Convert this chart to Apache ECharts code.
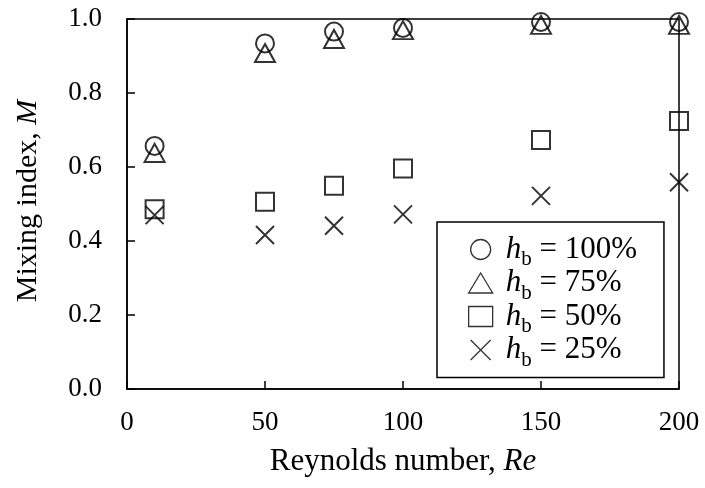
<!DOCTYPE html>
<html>
<head>
<meta charset="utf-8">
<script src="https://cdn.jsdelivr.net/npm/echarts@6/dist/echarts.min.js"></script>
<style>
  html, body { margin: 0; padding: 0; background: #fff; }
  #chart { width: 705px; height: 488px; }
</style>
</head>
<body>
<div id="chart"></div>
<script>
// Reynolds numbers at which the mixing index was evaluated
const reynolds = [10, 50, 75, 100, 150, 200];

// Mixing index M for each baffle height h_b
const mix100 = [0.657, 0.934, 0.966, 0.976, 0.992, 0.992];
const mix75  = [0.638, 0.908, 0.946, 0.970, 0.984, 0.984];
const mix50  = [0.486, 0.506, 0.549, 0.596, 0.673, 0.724];
const mix25  = [0.470, 0.416, 0.441, 0.472, 0.522, 0.559];

const seriesNames = ['100%', '75%', '50%', '25%'];
const xTicks = [0, 50, 100, 150, 200];
const yTicks = [0.0, 0.2, 0.4, 0.6, 0.8, 1.0];

const FONT = '"Liberation Serif", "Times New Roman", serif';
const CROSS = 'path://M0,0L10,10M0,10L10,0';

const pairs = (ys) => reynolds.map((x, i) => [x, ys[i]]);

const markerStyle = {
  color: 'rgba(0,0,0,0)',
  borderColor: '#000',
  borderWidth: 2
};

function scatter(name, ys, symbol, size) {
  return {
    name: name,
    type: 'scatter',
    data: pairs(ys),
    symbol: symbol,
    symbolSize: size,
    itemStyle: markerStyle,
    emphasis: { disabled: true },
    z: 3
  };
}

const chart = echarts.init(document.getElementById('chart'), null, { renderer: 'canvas' });

chart.setOption({
  animation: false,
  backgroundColor: '#fff',
  textStyle: { fontFamily: FONT, color: '#000' },
  grid: {
    left: 127, right: 26, top: 19, bottom: 99,
    show: true,
    borderColor: '#000',
    borderWidth: 1.5,
    backgroundColor: 'transparent'
  },
  xAxis: {
    type: 'value',
    min: xTicks[0],
    max: xTicks[xTicks.length - 1],
    interval: 50,
    name: 'Reynolds number, {it|Re}',
    nameLocation: 'middle',
    nameGap: 57,
    nameTextStyle: {
      fontFamily: FONT, fontSize: 31, color: '#000',
      rich: { it: { fontFamily: FONT, fontSize: 31, fontStyle: 'italic', color: '#000' } }
    },
    axisLine: { show: true, lineStyle: { color: '#000', width: 1.5 } },
    axisTick: { show: true, inside: true, length: 8, lineStyle: { color: '#000', width: 1.5 } },
    axisLabel: { fontFamily: FONT, fontSize: 27, color: '#000', margin: 20 },
    splitLine: { show: false }
  },
  yAxis: {
    type: 'value',
    min: yTicks[0],
    max: yTicks[yTicks.length - 1],
    interval: 0.2,
    name: 'Mixing index, {it|M}',
    nameLocation: 'middle',
    nameGap: 84,
    nameTextStyle: {
      fontFamily: FONT, fontSize: 30, color: '#000',
      padding: [0, 0, 0, 6],
      rich: { it: { fontFamily: FONT, fontSize: 30, fontStyle: 'italic', color: '#000' } }
    },
    axisLine: { show: true, lineStyle: { color: '#000', width: 1.5 } },
    axisTick: { show: true, inside: true, length: 8, lineStyle: { color: '#000', width: 1.5 } },
    axisLabel: {
      fontFamily: FONT, fontSize: 27, color: '#000', margin: 25,
      formatter: (v) => v.toFixed(1)
    },
    splitLine: { show: false }
  },
  legend: {
    orient: 'vertical',
    left: 437,
    top: 222,
    padding: [7, 27, 7, 31],
    borderColor: '#000',
    borderWidth: 1.5,
    backgroundColor: '#fff',
    itemWidth: 24,
    itemHeight: 20,
    // the subscript's top padding makes each entry taller than its visible text
    itemGap: -7.5,
    itemStyle: { borderWidth: 1.3 },
    selectedMode: false,
    data: [
      { name: seriesNames[0], icon: 'circle' },
      { name: seriesNames[1], icon: 'triangle' },
      { name: seriesNames[2], icon: 'rect' },
      { name: seriesNames[3], icon: CROSS }
    ],
    formatter: (n) => '{h|h}{b|b}{t| = ' + n + '}',
    textStyle: {
      fontFamily: FONT, color: '#000',
      rich: {
        h: { fontFamily: FONT, fontSize: 31, fontStyle: 'italic', color: '#000', lineHeight: 31, padding: [0, 0, 0, 8] },
        b: { fontFamily: FONT, fontSize: 21, color: '#000', lineHeight: 31, padding: [20, 0, 0, 0] },
        t: { fontFamily: FONT, fontSize: 31, color: '#000', lineHeight: 31 }
      }
    }
  },
  series: [
    scatter(seriesNames[0], mix100, 'circle', 18),
    scatter(seriesNames[1], mix75, 'triangle', [20, 18]),
    scatter(seriesNames[2], mix50, 'rect', 18),
    scatter(seriesNames[3], mix25, CROSS, 18)
  ]
});
</script>
</body>
</html>
